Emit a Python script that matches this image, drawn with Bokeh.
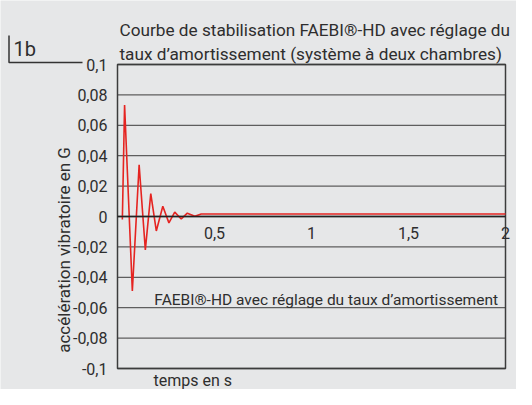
import math
from bokeh.plotting import figure
from bokeh.models import Range1d, LinearAxis, FixedTicker, Label
from bokeh.embed import file_html
from bokeh.resources import INLINE

# data
time_s = [0.025, 0.0365, 0.0765, 0.1115, 0.1435, 0.1715, 0.2, 0.2335, 0.265,
          0.295, 0.3285, 0.36, 0.3985, 0.4315, 2.0]
accel_g = [-0.002, 0.0733, -0.049, 0.034, -0.022, 0.015, -0.0095, 0.0067, -0.0042,
           0.0029, -0.0016, 0.0022, 0.0001, 0.0016, 0.0016]

x_min, x_max = 0, 2
y_min, y_max = -0.1, 0.1
x_ticks = [0.5, 1, 1.5, 2]
x_labels = ["0,5", "1", "1,5", "2"]
y_ticks = [-0.1, -0.08, -0.06, -0.04, -0.02, 0, 0.02, 0.04, 0.06, 0.08, 0.1]
y_labels = ["-0,1", "-0,08", "-0,06", "-0,04", "-0,02", "0", "0,02", "0,04", "0,06", "0,08", "0,1"]

title_lines = ["Courbe de stabilisation FAEBI\u00ae-HD avec r\u00e9glage du",
               "taux d\u2019amortissement (syst\u00e8me \u00e0 deux chambres)"]
series_name = "FAEBI\u00ae-HD avec r\u00e9glage du taux d\u2019amortissement"
y_title = "acc\u00e9l\u00e9ration vibratoire en G"
x_title = "temps en s"
fig_tag = "1b"

BG = "#e6e7e8"
TXT = "#2e2e2e"
GRID = "#5e5e5e"
FRAME = "#3c3c3c"
RED = "#e52421"
FONT = "Roboto"

W, H = 516, 389
# plot area inside the canvas (pixels): left, right, top, bottom
PL, PR, PT, PB = 117, 505, 64, 368
xs = (x_max - x_min) / (PR - PL)
ys = (y_max - y_min) / (PB - PT)

def dx(px):
    return x_min + (px - PL) * xs

def dy(py):
    return y_max - (py - PT) * ys

p = figure(width=W, height=H, output_backend="svg", toolbar_location=None,
           x_range=Range1d(dx(0), dx(W)), y_range=Range1d(dy(H), dy(0)),
           x_axis_location=None, y_axis_location=None, title_location=None,
           min_border=0, min_border_left=0, min_border_right=0,
           min_border_top=0, min_border_bottom=0,
           background_fill_color=BG, border_fill_color=BG)
p.outline_line_color = None
p.grid.visible = False

# horizontal grid lines at the y ticks
p.segment(x0=[x_min] * len(y_ticks), x1=[x_max] * len(y_ticks), y0=y_ticks, y1=y_ticks,
          line_color=GRID, line_width=1.3)
# plot frame
p.quad(left=[x_min], right=[x_max], bottom=[y_min], top=[y_max],
       fill_color=None, line_color=FRAME, line_width=1.5)

yax = LinearAxis(fixed_location=x_min, ticker=FixedTicker(ticks=y_ticks),
                 bounds=(y_min, y_max))
yax.major_label_overrides = {t: l for t, l in zip(y_ticks, y_labels)}
yax.axis_line_color = None
yax.major_tick_line_color = None
yax.minor_tick_line_color = None
yax.major_label_standoff = 4
yax.major_label_text_font = FONT
yax.major_label_text_font_size = "16px"
yax.major_label_text_color = TXT
p.add_layout(yax, "left")

xax = LinearAxis(fixed_location=0, ticker=FixedTicker(ticks=x_ticks), bounds=(x_min, x_max))
xax.major_label_overrides = {t: l for t, l in zip(x_ticks, x_labels)}
xax.axis_line_color = "#222222"
xax.axis_line_width = 1.5
xax.major_tick_line_color = None
xax.minor_tick_line_color = None
xax.major_label_standoff = 4
xax.major_label_text_font = FONT
xax.major_label_text_font_size = "16px"
xax.major_label_text_color = TXT
p.add_layout(xax, "below")

p.line(time_s, accel_g, line_color=RED, line_width=1.6)

def lab(x, y, text, size, angle=0.0, align="left", baseline="alphabetic"):
    p.add_layout(Label(x=x, y=y, text=text,
                       text_font=FONT, text_font_size=size, text_color=TXT,
                       angle=angle, text_align=align, text_baseline=baseline))

lab(dx(119), dy(29.5), title_lines[0], "17.2px")
lab(dx(119), dy(53), title_lines[1], "17.2px")
lab(dx(13), dy(48), fig_tag, "20px")
lab(0.19, -0.0551, series_name, "15.5px")
lab(dx(153), dy(380), x_title, "16px")
lab(dx(63.5), -0.022, y_title, "17px", angle=math.pi / 2, align="center", baseline="middle")

# L-shaped tag marker
tag_x = [dx(8.5), dx(8.5), dx(82)]
tag_y = [dy(35), dy(62), dy(62)]
p.line(tag_x, tag_y, line_color="#333333", line_width=1.5)

open("out.html", "w").write(file_html(p, INLINE))
